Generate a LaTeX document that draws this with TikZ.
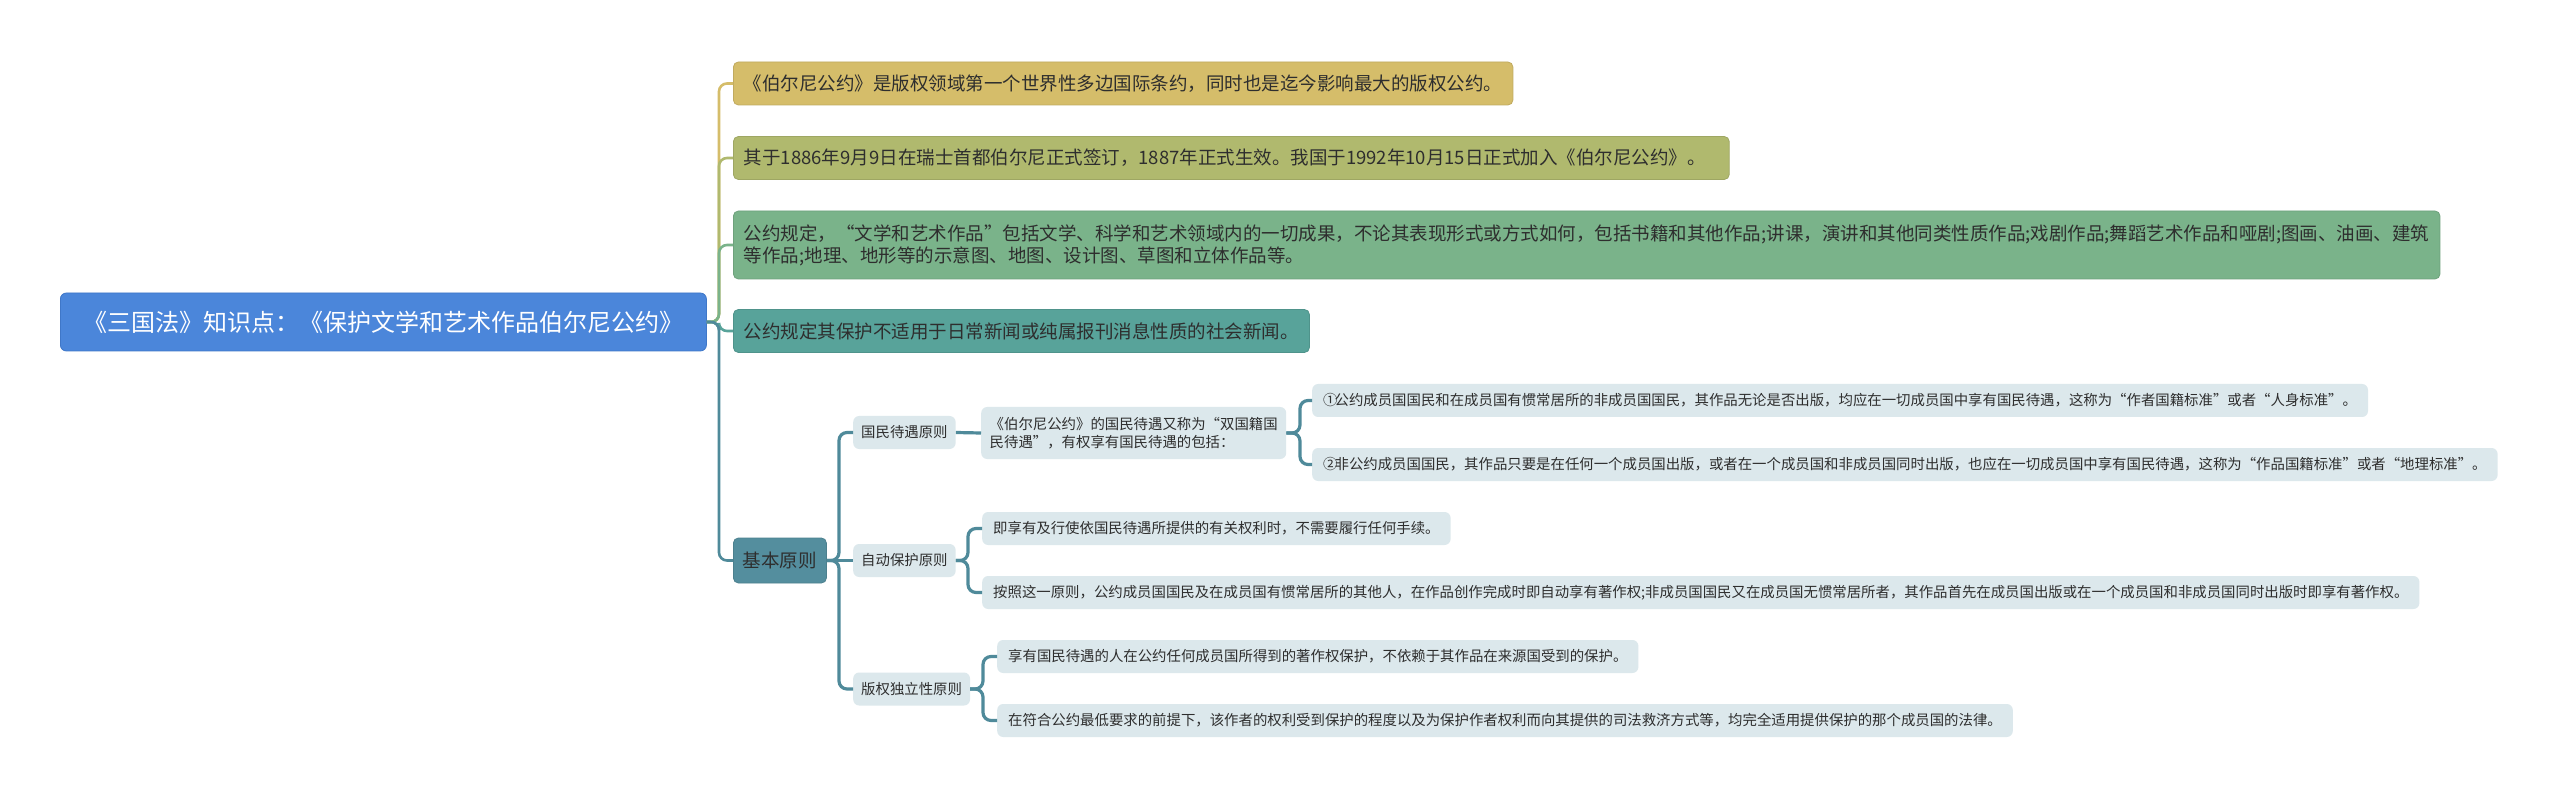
\documentclass[tikz,border=0pt]{standalone}
\usepackage{fontspec}
\setmainfont{Noto Sans CJK SC}
\definecolor{rootblue}{HTML}{4B86DA}
\definecolor{rootedge}{HTML}{3F77C8}
\definecolor{cA}{HTML}{D5BD6A}
\definecolor{cB}{HTML}{B0B96E}
\definecolor{cC}{HTML}{7AB38A}
\definecolor{cD}{HTML}{58A39A}
\definecolor{cE}{HTML}{548E9E}
\definecolor{lineE}{HTML}{4F8A9A}
\definecolor{light}{HTML}{DCE8EC}
\definecolor{txtdark}{HTML}{2E2E2E}
\begin{document}
\begin{tikzpicture}[x=1pt,y=-1pt]
\tikzset{
  rootbox/.style={anchor=west, rounded corners=6, fill=rootblue, draw=rootedge, line width=0.8,
    minimum height=58, inner xsep=23, inner ysep=0, text=white, font=\fontsize{24}{28}\selectfont},
  lvlone/.style={anchor=west, rounded corners=5, line width=0.8, minimum height=43,
    inner xsep=10.5, inner ysep=0, text=txtdark, align=left, font=\fontsize{18.5}{22}\selectfont},
  lvlthree/.style={anchor=west, rounded corners=6, fill=light, minimum height=33,
    inner xsep=8, inner ysep=0, text=txtdark, align=left, font=\fontsize{14.4}{18}\selectfont},
  leafbox/.style={lvlthree, inner xsep=11},
  connone/.style={line width=2.6, rounded corners=8},
  conntwo/.style={line width=3.2, rounded corners=8, draw=lineE},
}
\useasboundingbox (0,0) rectangle (2560,799);
\fill[white] (0,0) rectangle (2560,799);

% root
\node[rootbox] (root) at (60,322) {《三国法》知识点：《保护文学和艺术作品伯尔尼公约》};

% level 1
\node[lvlone, fill=cA, draw=cA!90!black] (n1) at (733,83.5) {《伯尔尼公约》是版权领域第一个世界性多边国际条约，同时也是迄今影响最大的版权公约。};
\node[lvlone, fill=cB, draw=cB!90!black] (n2) at (733,158) {其于1886年9月9日在瑞士首都伯尔尼正式签订，1887年正式生效。我国于1992年10月15日正式加入《伯尔尼公约》。\hspace{13pt}};
\node[lvlone, fill=cC, draw=cC!90!black, minimum height=68] (n3) at (733,245) {公约规定，“文学和艺术作品”包括文学、科学和艺术领域内的一切成果，不论其表现形式或方式如何，包括书籍和其他作品;讲课，演讲和其他同类性质作品;戏剧作品;舞蹈艺术作品和哑剧;图画、油画、建筑\hspace{6pt}\\等作品;地理、地形等的示意图、地图、设计图、草图和立体作品等。};
\node[lvlone, fill=cD, draw=cD!90!black] (n4) at (733,331) {公约规定其保护不适用于日常新闻或纯属报刊消息性质的社会新闻。};
\node[lvlone, fill=cE, draw=cE!90!black, minimum height=45, inner xsep=9.5] (n5) at (733,560.5) {基本原则};

% level 2 under 基本原则
\node[lvlthree] (p1) at (853,432.5) {国民待遇原则};
\node[lvlthree] (p2) at (853,560.5) {自动保护原则};
\node[lvlthree] (p3) at (853,689) {版权独立性原则};

% national treatment
\node[lvlthree, minimum height=52, inner xsep=8.5] (m1) at (981,433) {《伯尔尼公约》的国民待遇又称为“双国籍国\\民待遇”，有权享有国民待遇的包括：};
\node[leafbox] (a1) at (1312,400.5) {①\hspace{-3pt}公约成员国国民和在成员国有惯常居所的非成员国国民，其作品无论是否出版，均应在一切成员国中享有国民待遇，这称为“作者国籍标准”或者“人身标准”。};
\node[leafbox] (a2) at (1312,464.5) {②\hspace{-3pt}非公约成员国国民，其作品只要是在任何一个成员国出版，或者在一个成员国和非成员国同时出版，也应在一切成员国中享有国民待遇，这称为“作品国籍标准”或者“地理标准”。};

% automatic protection
\node[leafbox] (b1) at (982,528.5) {即享有及行使依国民待遇所提供的有关权利时，不需要履行任何手续。};
\node[leafbox] (b2) at (982,592.5) {按照这一原则，公约成员国国民及在成员国有惯常居所的其他人，在作品创作完成时即自动享有著作权;非成员国国民又在成员国无惯常居所者，其作品首先在成员国出版或在一个成员国和非成员国同时出版时即享有著作权。};

% independence
\node[leafbox] (c1) at (997,656.5) {享有国民待遇的人在公约任何成员国所得到的著作权保护，不依赖于其作品在来源国受到的保护。};
\node[leafbox] (c2) at (997,720.5) {在符合公约最低要求的前提下，该作者的权利受到保护的程度以及为保护作者权利而向其提供的司法救济方式等，均完全适用提供保护的那个成员国的法律。};

% coordinates for trunks
\coordinate (t0) at (719,322);

% level 1 connectors (outermost first)
\draw[connone, draw=cA] (root.east) -- (t0) -- (719,83.5) -- (n1.west);
\draw[connone, draw=cB] (root.east) -- (t0) -- (719,158) -- (n2.west);
\draw[connone, draw=cC] (root.east) -- (t0) -- (719,245) -- (n3.west);
\draw[connone, draw=cD] (root.east) -- (t0) -- (719,331) -- (n4.west);
\draw[connone, draw=lineE] (root.east) -- (t0) -- (719,560.5) -- (n5.west);

% level 2 connectors
\draw[conntwo] (n5.east) -- (839,560.5) -- (839,432.5) -- (p1.west);
\draw[conntwo] (n5.east) -- (839,560.5) -- (839,689) -- (p3.west);
\draw[conntwo] (n5.east) -- (p2.west);

% level 3 connectors
\draw[conntwo] (p1.east) -- (m1.west);
\draw[conntwo] (m1.east) -- (1300,433) -- (1300,400.5) -- (a1.west);
\draw[conntwo] (m1.east) -- (1300,433) -- (1300,464.5) -- (a2.west);
\draw[conntwo] (p2.east) -- (968,560.5) -- (968,528.5) -- (b1.west);
\draw[conntwo] (p2.east) -- (968,560.5) -- (968,592.5) -- (b2.west);
\draw[conntwo] (p3.east) -- (983,689) -- (983,656.5) -- (c1.west);
\draw[conntwo] (p3.east) -- (983,689) -- (983,720.5) -- (c2.west);
\end{tikzpicture}
\end{document}
